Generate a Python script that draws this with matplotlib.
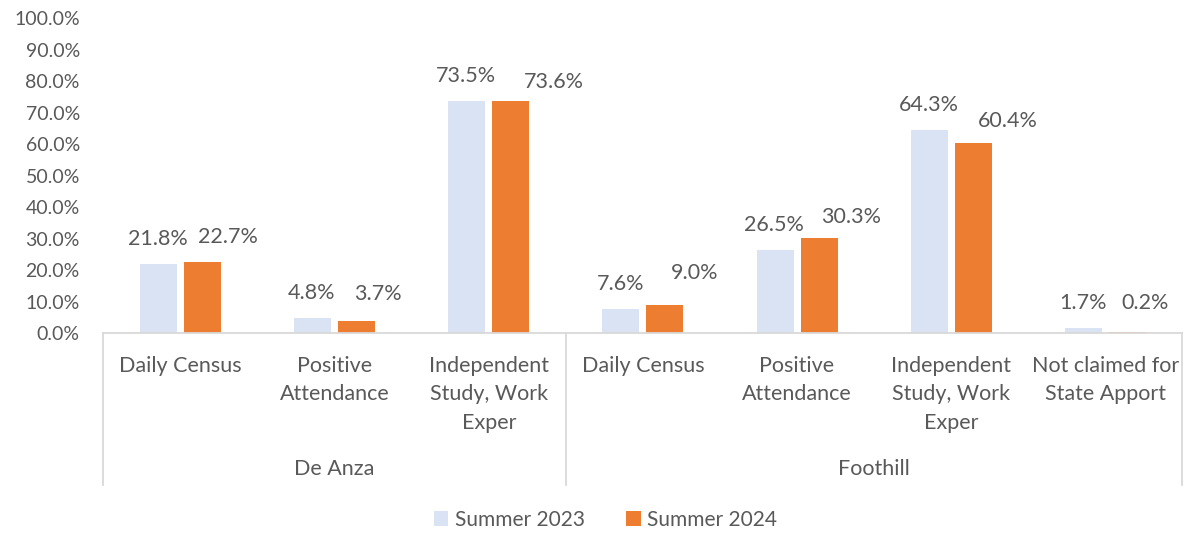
import matplotlib.pyplot as plt
import numpy as np

plt.rcParams['font.family'] = ['Lato', 'DejaVu Sans']

categories = ["Daily Census", "Positive\nAttendance", "Independent\nStudy, Work\nExper",
              "Daily Census", "Positive\nAttendance", "Independent\nStudy, Work\nExper",
              "Not claimed for\nState Apport"]
groups = ["De Anza", "Foothill"]
group_sizes = [3, 4]
summer_2023 = [21.8, 4.8, 73.5, 7.6, 26.5, 64.3, 1.7]
summer_2024 = [22.7, 3.7, 73.6, 9.0, 30.3, 60.4, 0.2]

# label nudges (points) for the orange series, as placed in the original
lab24_dx = [18, 15.5, 31, 21.5, 23, 25, 13]
lab24_dy = [17.5, 20, 13.5, 22.5, 15, 15.5, 21]

c23 = '#DAE3F3'
c24 = '#ED7D31'
txt = '#595959'
line = '#D9D9D9'

fig = plt.figure(figsize=(11.85, 5.36), dpi=100)
ax = fig.add_axes([0.0873, 0.3787, 0.9105, 0.5877])

x = np.arange(len(categories))
w = 0.24
off = 0.143
b1 = ax.bar(x - off, summer_2023, w, color=c23, label='Summer 2023')
b2 = ax.bar(x + off, summer_2024, w, color=c24, label='Summer 2024')

for xi, v in zip(x, summer_2023):
    ax.annotate(f"{v:.1f}%", (xi - off, v), xytext=(-0.5, 18), textcoords='offset points',
                ha='center', va='center', fontsize=15.5, color=txt)
for xi, v, dx, dy in zip(x, summer_2024, lab24_dx, lab24_dy):
    ax.annotate(f"{v:.1f}%", (xi + off, v), xytext=(dx, dy), textcoords='offset points',
                ha='center', va='center', fontsize=15.5, color=txt)

ax.set_xlim(-0.5, len(categories) - 0.5)
ax.set_ylim(0, 100)
ax.set_yticks(np.arange(0, 101, 10))
ax.set_yticklabels([f"{t:.1f}%" for t in np.arange(0, 101, 10)])
ax.tick_params(axis='y', length=0, labelsize=14, labelcolor=txt, pad=17)
ax.set_xticks([])
for s in ['top', 'right', 'left']:
    ax.spines[s].set_visible(False)
ax.spines['bottom'].set_color(line)
ax.spines['bottom'].set_linewidth(1.3)

# category labels
trans = ax.get_xaxis_transform()
for xi, lab in zip(x, categories):
    ax.text(xi, -0.072, lab, transform=trans, ha='center', va='top', fontsize=15.5,
            color=txt, linespacing=1.55)

# group separators and labels
bounds = np.concatenate([[0], np.cumsum(group_sizes)]) - 0.5
for bx in bounds:
    ax.plot([bx, bx], [0, -0.483], transform=trans, color=line, lw=1.3, clip_on=False)
for i, g in enumerate(groups):
    ax.text((bounds[i] + bounds[i + 1]) / 2, -0.432, g, transform=trans, ha='center',
            va='center', fontsize=15.5, color=txt)

fig.legend(handles=[b1, b2], loc='center', bbox_to_anchor=(0.511, 0.03), ncol=2,
           frameon=False, fontsize=15, labelcolor=txt, handlelength=0.7, handleheight=0.7,
           handletextpad=0.3, columnspacing=2.0)

fig.savefig('out.png', dpi=100)
